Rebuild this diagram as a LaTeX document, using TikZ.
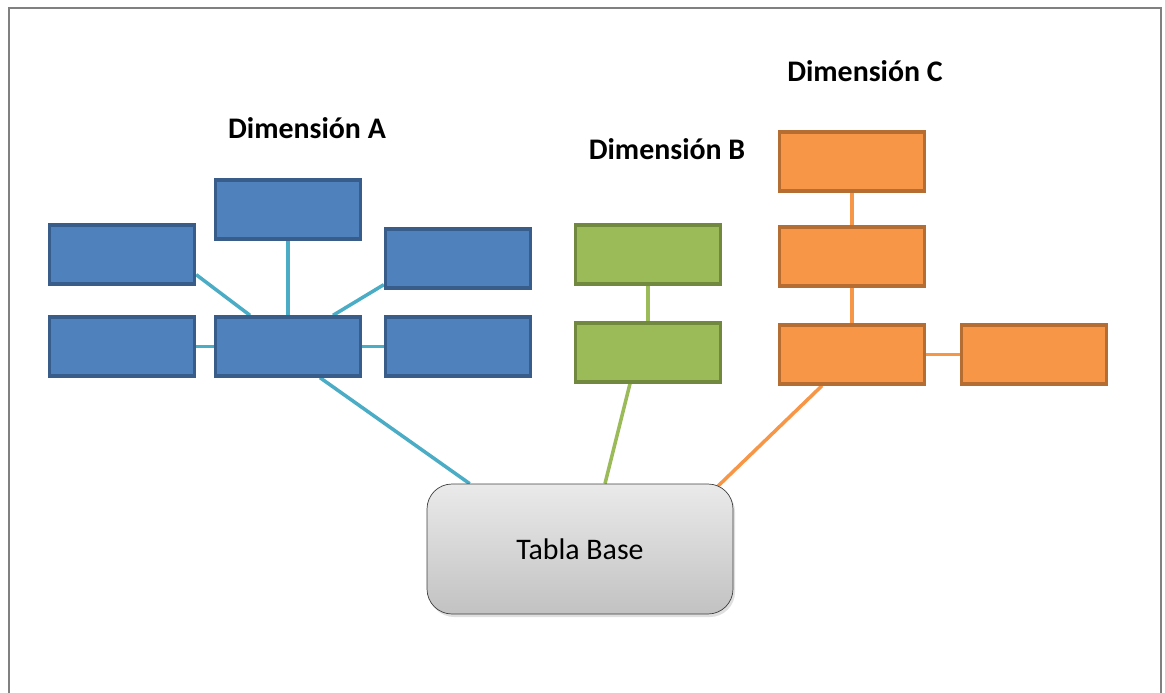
\documentclass[tikz,border=0pt]{standalone}
\usepackage{fontspec}
\setmainfont{Carlito}
\usepackage{tikz}
\usetikzlibrary{positioning,calc,shadows,backgrounds}
\definecolor{azulA}{RGB}{79,129,189}
\definecolor{azulAborde}{RGB}{56,93,138}
\definecolor{lineaA}{RGB}{75,172,198}
\definecolor{verdeB}{RGB}{155,187,89}
\definecolor{verdeBborde}{RGB}{113,137,63}
\definecolor{naranjaC}{RGB}{247,150,70}
\definecolor{naranjaCborde}{RGB}{182,109,49}
\tikzset{
	dimA/.style = {draw=azulAborde, fill=azulA, rectangle, line width=1.9pt, minimum height=1.18cm, minimum width=2.9cm},
	dimB/.style = {dimA, draw=verdeBborde, fill=verdeB},
	dimC/.style = {dimA, draw=naranjaCborde, fill=naranjaC},
	tabla/.style = {draw=black!75, rounded corners=0.5cm, minimum height=2.6cm, minimum width=6.12cm,
		top color={rgb,255:red,234;green,234;blue,234}, bottom color={rgb,255:red,194;green,194;blue,194},
		drop shadow={opacity=0.25, shadow xshift=0.04cm, shadow yshift=-0.06cm}, font=\fontsize{17}{20}\selectfont},
	titulo/.style = {font=\bfseries\fontsize{17}{20}\selectfont},
	linkA/.style = {draw=lineaA, line width=2pt},
	linkB/.style = {draw=verdeB, line width=2pt},
	linkC/.style = {draw=naranjaC, line width=2pt}
}

\begin{document}
\begin{tikzpicture}
		\useasboundingbox (0,0) rectangle (23.3,-13.86);
		\draw [gray, line width=1.2pt] (0.18,-14.2) -- (0.18,-0.16) -- (23.22,-0.16) -- (23.22,-14.2);

		% tabla base
		\node [tabla] (base) at (11.6,-10.98) {Tabla Base};

		% dimension A
		\node [dimA] (A0) at (5.76,-6.93) {};
		\node [dimA, above of=A0, node distance=2.74cm] (A3) {};
		\node [dimA, left of=A0, node distance=3.32cm] (A4) {};
		\node [dimA, right of=A0, node distance=3.4cm] (A5) {};
		\node [dimA, above of=A4, node distance=1.84cm] (A1) {};
		\node [dimA, above of=A5, node distance=1.76cm] (A2) {};
		\node [titulo] (tA) at (6.14,-2.56) {Dimensión A};

		% dimension B
		\node [dimB] (B1) at (12.96,-7.05) {};
		\node [dimB, above of=B1, node distance=1.96cm] (B2) {};
		\node [titulo] (tB) at (13.34,-2.98) {Dimensión B};

		% dimension C
		\node [dimC] (C1) at (17.04,-7.09) {};
		\node [dimC, above of=C1, node distance=1.96cm] (C2) {};
		\node [dimC, above of=C2, node distance=1.9cm] (C3) {};
		\node [dimC, right of=C1, node distance=3.64cm] (C4) {};
		\node [titulo] (tC) at (17.3,-1.42) {Dimensión C};

		\begin{scope}[on background layer]
			\draw [linkA] (A3) -- (A0);
			\draw [linkA] (A4) -- (A0);
			\draw [linkA] (A5) -- (A0);
			\draw [linkA] ($(A1.south east)+(0,0.22)$) -- ($(A0.north)+(-0.76,0)$);
			\draw [linkA] ($(A2.south west)+(0,0.1)$) -- ($(A0.north)+(0.9,0)$);
			\draw [linkA] ($(A0.south)+(0.64,0)$) -- ($(base.north west)+(0.86,0)$);

			\draw [linkB] (B2) -- (B1);
			\draw [linkB] ($(B1.south)+(-0.36,0)$) -- ($(base.north)+(0.5,0)$);

			\draw [linkC] (C3) -- (C2);
			\draw [linkC] (C2) -- (C1);
			\draw [linkC] (C1) -- (C4);
			\draw [linkC] ($(C1.south)+(-0.6,0)$) -- ($(base.north east)+(-0.36,-0.1)$);
		\end{scope}
	\end{tikzpicture}
\end{document}
